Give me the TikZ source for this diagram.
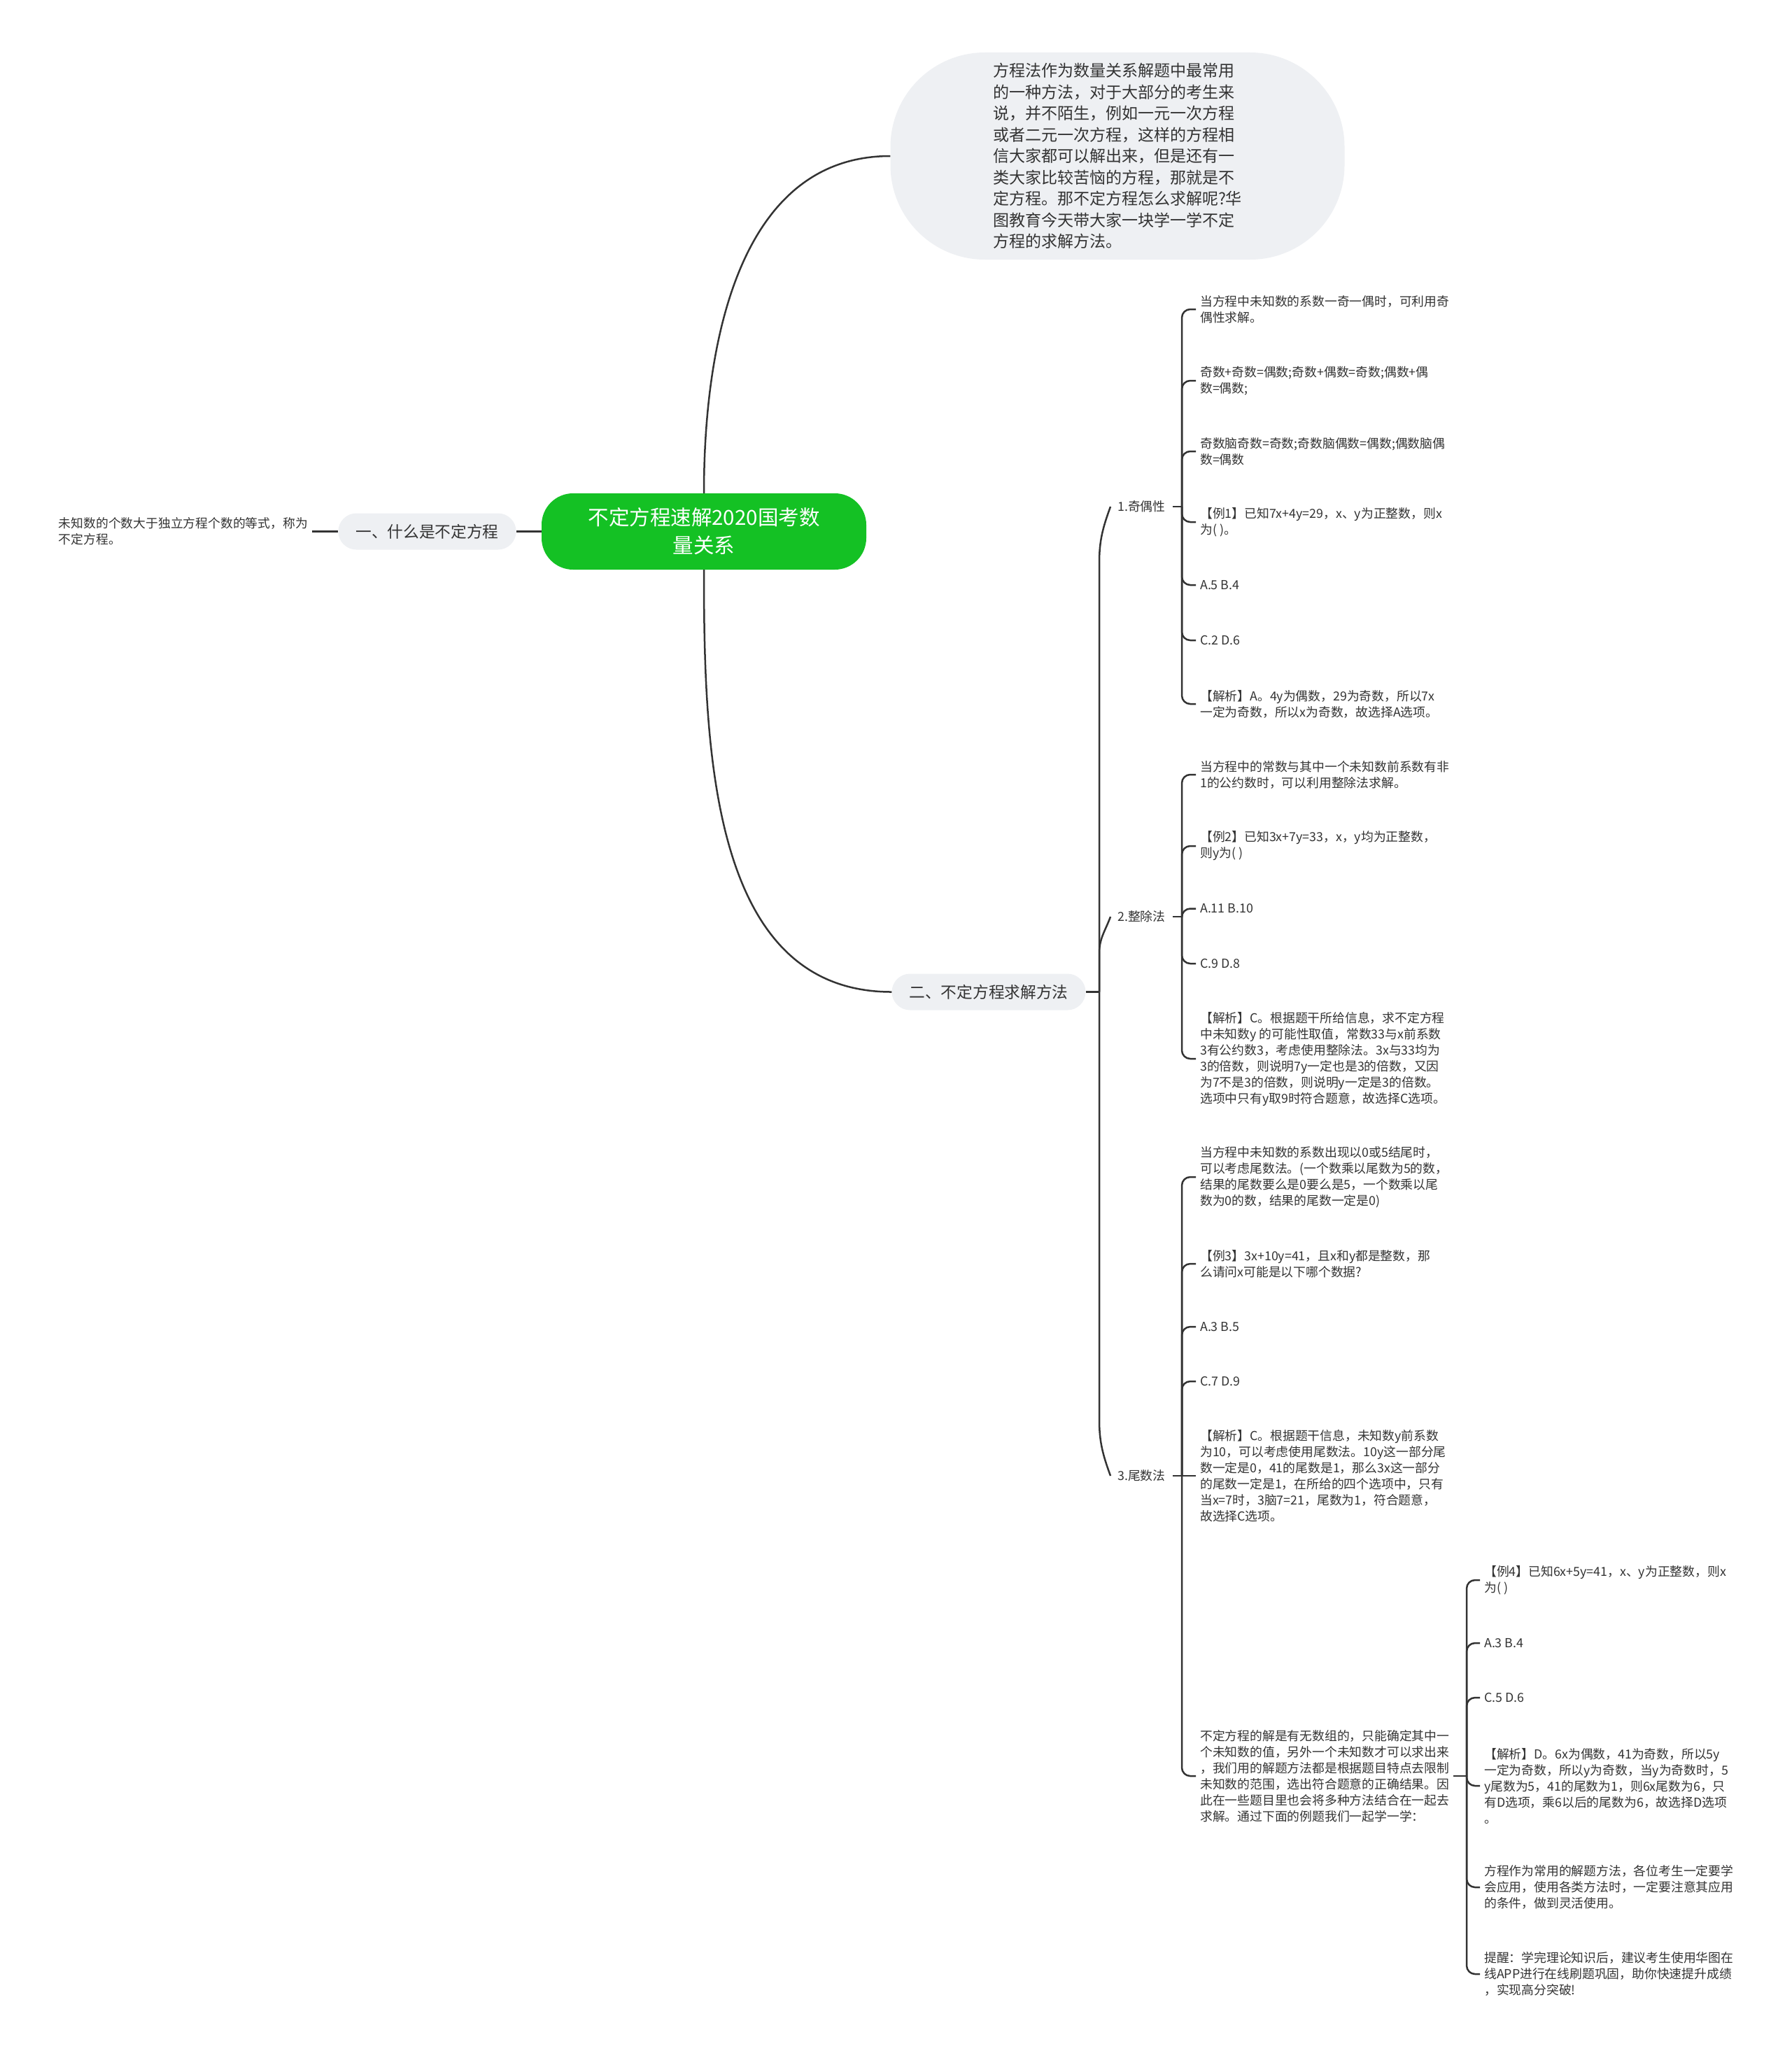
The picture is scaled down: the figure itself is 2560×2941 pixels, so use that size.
\documentclass[tikz,border=0pt]{standalone}
\usepackage{fontspec}
\setmainfont{Noto Sans CJK SC}
\definecolor{linea}{HTML}{333333}
\definecolor{tinta}{HTML}{333333}
\definecolor{gris}{HTML}{EEF0F3}
\definecolor{verde}{HTML}{14C124}
\begin{document}
\begin{tikzpicture}[x=1pt, y=1pt,
    every node/.style={text=tinta},
    conector/.style={draw=linea, line width=2.5pt},
    llave/.style={conector, rounded corners=12pt},
    hoja/.style={anchor=west, align=left, inner xsep=6pt, inner ysep=3pt, font=\fontsize{17.8}{23}\selectfont},
    rama/.style={anchor=west, inner xsep=10pt, font=\fontsize{17.8}{23}\selectfont},
    pastilla/.style={fill=gris, rounded corners=26pt, minimum height=52pt, inner xsep=25pt, font=\fontsize{22.7}{28}\selectfont},
    raiz/.style={fill=verde, text=white, rounded corners=45pt, minimum width=464pt, minimum height=109pt, align=center, font=\fontsize{29.5}{40}\selectfont},
    burbuja/.style={fill=gris, rounded corners=135pt, minimum width=649pt, minimum height=296pt, align=left, font=\fontsize{23}{30.5}\selectfont}]
        \useasboundingbox (0,0) rectangle (2560,-2941);

        % Nodo central y burbuja
        \node[raiz] (tema) at (1006,-759.5) {不定方程速解2020国考数\\量关系};
        \node[burbuja] (intro) at (1597,-223) {方程法作为数量关系解题中最常用\\的一种方法，对于大部分的考生来\\说，并不陌生，例如一元一次方程\\或者二元一次方程，这样的方程相\\信大家都可以解出来，但是还有一\\类大家比较苦恼的方程，那就是不\\定方程。那不定方程怎么求解呢?华\\图教育今天带大家一块学一学不定\\方程的求解方法。};
        \draw[conector] (tema.north) to[out=90, in=180] (intro.west);

        % Rama izquierda
        \node[pastilla] (que) at (610.5,-759.5) {一、什么是不定方程};
        \node[hoja, anchor=east] (def) at (446,-759.5) {未知数的个数大于独立方程个数的等式，称为\\不定方程。};
        \draw[conector] (tema.west) -- (que.east);
        \draw[conector] (que.west) -- (def.east);

        % Rama de metodos
        \node[pastilla] (metodo) at (1413,-1417.5) {二、不定方程求解方法};
        \draw[conector] (tema.south) to[out=-90, in=180] (metodo.west);
        \node[rama] (paridad) at (1587,-724) {1.奇偶性};
        \node[rama] (division) at (1587,-1310) {2.整除法};
        \node[rama] (cola) at (1587,-2109) {3.尾数法};
        \coordinate (eje) at (1571,-1417.5);
        \draw[conector] (metodo.east) -- (eje);
        \draw[conector] (eje) -- (1571,-804) to[out=90, in=-110] (paridad.west);
        \draw[conector] (eje) -- (1571,-1362) to[out=90, in=-110] (division.west);
        \draw[conector] (eje) -- (1571,-2029) to[out=-90, in=110] (cola.west);

        % 1. paridad
        \coordinate (bpar) at (1689,-724);
        \node[hoja] (par1) at (1709,-442) {当方程中未知数的系数一奇一偶时，可利用奇\\偶性求解。};
        \node[hoja] (par2) at (1709,-544) {奇数+奇数=偶数;奇数+偶数=奇数;偶数+偶\\数=偶数;};
        \node[hoja] (par3) at (1709,-645) {奇数脑奇数=奇数;奇数脑偶数=偶数;偶数脑偶\\数=偶数};
        \node[hoja] (par4) at (1709,-746) {【例1】已知7x+4y=29，x、y为正整数，则x\\为( )。};
        \node[hoja] (par5) at (1709,-836) {A.5 B.4};
        \node[hoja] (par6) at (1709,-915) {C.2 D.6};
        \node[hoja] (par7) at (1709,-1006) {【解析】A。4y为偶数，29为奇数，所以7x\\一定为奇数，所以x为奇数，故选择A选项。};
        \draw[conector] (paridad.east) -- (bpar);
        \foreach \h in {par1,par2,par3,par4,par5,par6,par7}
            \draw[llave] (bpar) |- (\h.west);

        % 2. division
        \coordinate (bdiv) at (1689,-1310);
        \node[hoja] (div1) at (1709,-1107) {当方程中的常数与其中一个未知数前系数有非\\1的公约数时，可以利用整除法求解。};
        \node[hoja] (div2) at (1709,-1209) {【例2】已知3x+7y=33，x，y均为正整数，\\则y为( )};
        \node[hoja] (div3) at (1709,-1298.5) {A.11 B.10};
        \node[hoja] (div4) at (1709,-1377) {C.9 D.8};
        \node[hoja] (div5) at (1709,-1513) {【解析】C。根据题干所给信息，求不定方程\\中未知数y 的可能性取值，常数33与x前系数\\3有公约数3，考虑使用整除法。3x与33均为\\3的倍数，则说明7y一定也是3的倍数，又因\\为7不是3的倍数，则说明y一定是3的倍数。\\选项中只有y取9时符合题意，故选择C选项。};
        \draw[conector] (division.east) -- (bdiv);
        \foreach \h in {div1,div2,div3,div4,div5}
            \draw[llave] (bdiv) |- (\h.west);

        % 3. cola
        \coordinate (bcola) at (1689,-2109);
        \node[hoja] (cola1) at (1709,-1682) {当方程中未知数的系数出现以0或5结尾时，\\可以考虑尾数法。(一个数乘以尾数为5的数，\\结果的尾数要么是0要么是5，一个数乘以尾\\数为0的数，结果的尾数一定是0)};
        \node[hoja] (cola2) at (1709,-1806) {【例3】3x+10y=41，且x和y都是整数，那\\么请问x可能是以下哪个数据?};
        \node[hoja] (cola3) at (1709,-1896) {A.3 B.5};
        \node[hoja] (cola4) at (1709,-1974) {C.7 D.9};
        \node[hoja] (cola5) at (1709,-2109) {【解析】C。根据题干信息，未知数y前系数\\为10，可以考虑使用尾数法。10y这一部分尾\\数一定是0，41的尾数是1，那么3x这一部分\\的尾数一定是1，在所给的四个选项中，只有\\当x=7时，3脑7=21，尾数为1，符合题意，\\故选择C选项。};
        \node[hoja] (cola6) at (1709,-2538) {不定方程的解是有无数组的，只能确定其中一\\个未知数的值，另外一个未知数才可以求出来\\，我们用的解题方法都是根据题目特点去限制\\未知数的范围，选出符合题意的正确结果。因\\此在一些题目里也会将多种方法结合在一起去\\求解。通过下面的例题我们一起学一学：};
        \draw[conector] (cola.east) -- (cola5.west);
        \foreach \h in {cola1,cola2,cola3,cola4,cola6}
            \draw[llave] (bcola) |- (\h.west);

        % Ejemplo 4 y cierre
        \coordinate (bej) at (2096,-2538);
        \node[hoja] (ej1) at (2115,-2258) {【例4】已知6x+5y=41，x、y为正整数，则x\\为( )};
        \node[hoja] (ej2) at (2115,-2348) {A.3 B.4};
        \node[hoja] (ej3) at (2115,-2426) {C.5 D.6};
        \node[hoja] (ej4) at (2115,-2552) {【解析】D。6x为偶数，41为奇数，所以5y\\一定为奇数，所以y为奇数，当y为奇数时，5\\y尾数为5，41的尾数为1，则6x尾数为6，只\\有D选项，乘6以后的尾数为6，故选择D选项\\。};
        \node[hoja] (ej5) at (2115,-2697) {方程作为常用的解题方法，各位考生一定要学\\会应用，使用各类方法时，一定要注意其应用\\的条件，做到灵活使用。};
        \node[hoja] (ej6) at (2115,-2821) {提醒：学完理论知识后，建议考生使用华图在\\线APP进行在线刷题巩固，助你快速提升成绩\\，实现高分突破!};
        \draw[conector] (cola6.east) -- (bej);
        \foreach \h in {ej1,ej2,ej3,ej4,ej5,ej6}
            \draw[llave] (bej) |- (\h.west);
    \end{tikzpicture}
\end{document}
